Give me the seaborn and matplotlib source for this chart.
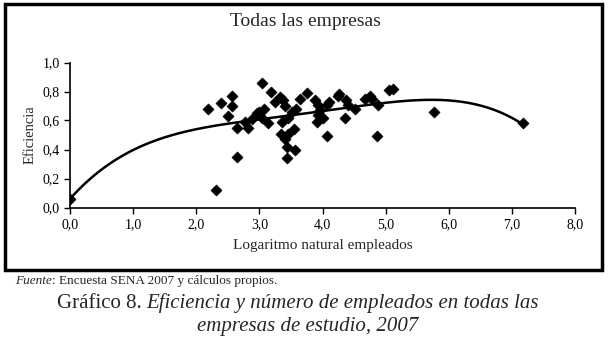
import numpy as np
import matplotlib
matplotlib.use("Agg")
import matplotlib.pyplot as plt
import seaborn as sns
from matplotlib.patches import Rectangle
from matplotlib.ticker import FuncFormatter

sns.set_style("ticks")
plt.rcParams['font.family'] = ['Liberation Serif', 'DejaVu Serif']

# log(employees) and efficiency per firm
log_empleados = [0.00, 2.31, 2.19, 2.39, 2.56, 2.56, 2.50, 2.65, 2.65, 2.77,
                 2.82, 2.88, 2.96, 3.04, 3.00, 3.07, 3.04, 3.14, 3.19, 3.25,
                 3.33, 3.37, 3.41, 3.36, 3.34, 3.45, 3.41, 3.44, 3.44, 3.55,
                 3.56, 3.52, 3.45, 3.64, 3.76, 3.58, 3.88, 3.93, 3.93, 3.91,
                 3.96, 4.00, 4.07, 4.07, 4.10, 4.25, 4.26, 4.36, 4.37, 4.41,
                 4.51, 4.67, 4.75, 4.79, 4.88, 4.86, 5.06, 5.12, 5.77, 7.18]
eficiencia = [0.06, 0.12, 0.68, 0.72, 0.77, 0.70, 0.63, 0.55, 0.35, 0.59,
              0.55, 0.61, 0.65, 0.86, 0.66, 0.68, 0.62, 0.58, 0.80, 0.73,
              0.76, 0.74, 0.70, 0.59, 0.51, 0.51, 0.47, 0.42, 0.34, 0.54,
              0.40, 0.66, 0.62, 0.75, 0.79, 0.68, 0.74, 0.71, 0.64, 0.59,
              0.67, 0.62, 0.71, 0.49, 0.73, 0.77, 0.78, 0.62, 0.74, 0.71,
              0.68, 0.75, 0.77, 0.75, 0.71, 0.49, 0.81, 0.82, 0.66, 0.58]
grado_tendencia = 4

fig = plt.figure(figsize=(6.08, 3.41), dpi=100)
W, H = 608, 341

ax = fig.add_axes([70 / W, 1 - 207.5 / H, 505 / W, 145 / H])
sns.scatterplot(x=log_empleados, y=eficiencia, marker='D', color='black',
                edgecolor='black', s=32, ax=ax, zorder=3)

# polynomial trend line fitted to the points
coef = np.polyfit(log_empleados, eficiencia, grado_tendencia)
xs = np.linspace(min(log_empleados), max(log_empleados), 200)
ax.plot(xs, np.polyval(coef, xs), color='black', lw=1.8, zorder=2)

ax.set_xlim(0, 8)
ax.set_ylim(0, 1)
ax.set_xticks(np.arange(0, 9, 1))
ax.set_yticks(np.arange(0, 1.01, 0.2))
coma = FuncFormatter(lambda v, p: f"{v:.1f}".replace('.', ','))
ax.xaxis.set_major_formatter(coma)
ax.yaxis.set_major_formatter(coma)
ax.tick_params(labelsize=10, length=4, width=1, colors='black')
sns.despine(ax=ax)
for s in ['left', 'bottom']:
    ax.spines[s].set_linewidth(1.2)
    ax.spines[s].set_color('black')
ax.set_xlabel("Logaritmo natural empleados", fontsize=11, labelpad=6)
ax.set_ylabel("Eficiencia", fontsize=10.5, labelpad=4)

fig.patches.append(Rectangle((5 / W, 1 - 270 / H), 597 / W, 266 / H,
                             transform=fig.transFigure, fill=False,
                             edgecolor='black', lw=2.5))
fig.text(305 / W, 1 - 22 / H, "Todas las empresas", ha='center', va='center',
         fontsize=14)

renderer = fig.canvas.get_renderer()


def pieces(parts, y, x=None, xc=None, size=10):
    # draw a line of text made of regular / italic parts
    widths = []
    for txt, st in parts:
        t = fig.text(0, 0, txt, fontsize=size, style=st)
        widths.append(t.get_window_extent(renderer).width)
        t.remove()
    total = sum(widths)
    x0 = x if x is not None else xc - total / 2
    for (txt, st), w in zip(parts, widths):
        fig.text(x0 / W, 1 - y / H, txt, fontsize=size, style=st, va='center')
        x0 += w


pieces([("Fuente", 'italic'), (": Encuesta SENA 2007 y cálculos propios.", 'normal')],
       281, x=15, size=9.5)
pieces([("Gráfico 8. ", 'normal'),
        ("Eficiencia y número de empleados en todas las", 'italic')],
       303, xc=298, size=15)
pieces([("empresas de estudio, 2007", 'italic')], 327, xc=308, size=15)

fig.savefig("out.png", dpi=100)
